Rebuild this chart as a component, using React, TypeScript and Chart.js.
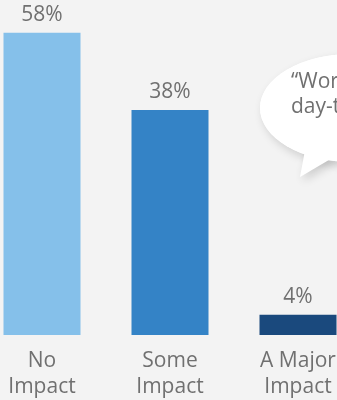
import React, { useEffect, useRef } from "react";
import { Chart, registerables } from "chart.js";

Chart.register(...registerables);

const categories: string[][] = [["No", "Impact"], ["Some", "Impact"], ["A Major", "Impact"]];
const barValues: number[] = [58, 43.2, 3.9];
const valueLabels: string[] = ["58%", "38%", "4%"];
const barColors: string[] = ["#85C0EA", "#3483C6", "#1A497D"];
const quoteLines: string[] = ["\u201CWor", "day-t"];

const FONT = "'Open Sans', 'DejaVu Sans', sans-serif";
const TEXT = "#707070";
const BG = "#F3F3F3";
const SHIFT = 22; // canvas is shifted left so the first category starts off-screen

const valueLabelPlugin = {
  id: "valueLabels",
  afterDatasetsDraw(chart: any) {
    const ctx = chart.ctx;
    const meta = chart.getDatasetMeta(0);
    ctx.save();
    ctx.font = `21px ${FONT}`;
    ctx.fillStyle = TEXT;
    ctx.textAlign = "center";
    ctx.textBaseline = "alphabetic";
    meta.data.forEach((el: any, i: number) => {
      ctx.fillText(valueLabels[i], el.x, el.y - 12);
    });
    ctx.restore();
  },
};

const bubblePlugin = {
  id: "bubble",
  afterDraw(chart: any) {
    const ctx = chart.ctx;
    const ox = SHIFT;
    ctx.save();
    ctx.shadowColor = "rgba(0,0,0,0.16)";
    ctx.shadowBlur = 10;
    ctx.shadowOffsetX = 3;
    ctx.shadowOffsetY = 4;
    ctx.fillStyle = "#FFFFFF";
    ctx.beginPath();
    ctx.ellipse(352 + ox, 108, 92, 54, 0, 0, Math.PI * 2);
    ctx.fill();
    ctx.beginPath();
    ctx.moveTo(306 + ox, 145);
    ctx.lineTo(300 + ox, 177);
    ctx.lineTo(334 + ox, 157);
    ctx.closePath();
    ctx.fill();
    ctx.shadowColor = "transparent";
    ctx.beginPath();
    ctx.ellipse(352 + ox, 108, 92, 54, 0, 0, Math.PI * 2);
    ctx.fill();
    ctx.font = `21px ${FONT}`;
    ctx.fillStyle = TEXT;
    ctx.textAlign = "left";
    ctx.textBaseline = "alphabetic";
    ctx.fillText(quoteLines[0], 291 + ox, 88);
    ctx.fillText(quoteLines[1], 291 + ox, 113);
    ctx.restore();
  },
};

export default function App() {
  const ref = useRef<HTMLCanvasElement | null>(null);
  useEffect(() => {
    document.body.style.margin = "0";
    document.body.style.background = BG;
    const chart = new Chart(ref.current as HTMLCanvasElement, {
      type: "bar",
      data: {
        labels: categories,
        datasets: [
          {
            data: barValues,
            backgroundColor: barColors,
            borderWidth: 0,
            categoryPercentage: 1,
            barPercentage: 0.6016,
          },
        ],
      },
      options: {
        responsive: false,
        animation: false,
        layout: { padding: { left: 0, right: 400 - 384, top: 0, bottom: 0 } },
        plugins: { legend: { display: false }, tooltip: { enabled: false } },
        scales: {
          y: {
            display: false,
            min: 0,
            max: 64.3,
          },
          x: {
            grid: { display: false, drawTicks: false },
            border: { display: false },
            ticks: {
              color: TEXT,
              padding: 13,
              font: { family: FONT, size: 21, lineHeight: 1.24 },
              maxRotation: 0,
              autoSkip: false,
            },
            afterFit: (scale: any) => {
              scale.height = 65;
            },
          },
        },
      },
      plugins: [valueLabelPlugin, bubblePlugin],
    });
    return () => chart.destroy();
  }, []);
  return (
    <div style={{ position: "relative", width: 337, height: 400, overflow: "hidden", background: BG }}>
      <canvas
        ref={ref}
        width={400}
        height={400}
        style={{ position: "absolute", left: -SHIFT, top: 0, width: 400, height: 400 }}
      />
    </div>
  );
}
